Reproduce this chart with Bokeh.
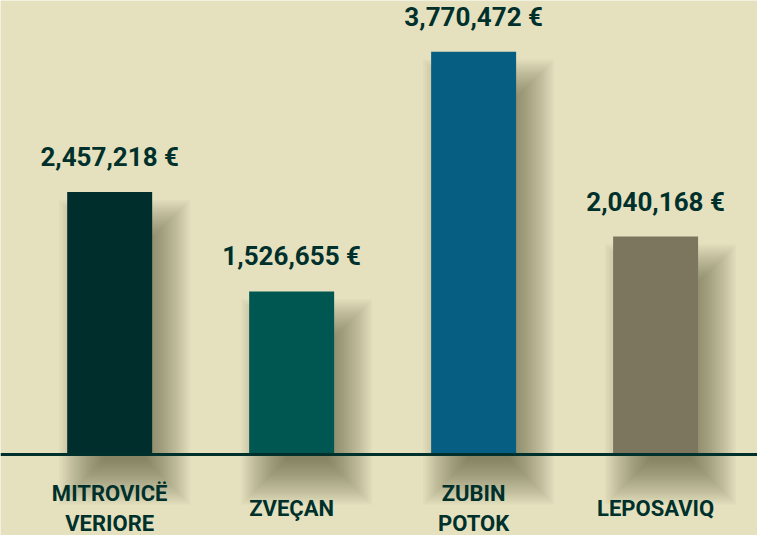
from bokeh.plotting import figure
from bokeh.models import ColumnDataSource, Span, Range1d
from bokeh.core.properties import value
from bokeh.embed import file_html
from bokeh.resources import INLINE

categories = ["MITROVICË\nVERIORE", "ZVEÇAN", "ZUBIN\nPOTOK", "LEPOSAVIQ"]
amounts = [2457218, 1526655, 3770472, 2040168]
value_labels = ["2,457,218 €", "1,526,655 €", "3,770,472 €", "2,040,168 €"]
colors = ["#002e2c", "#005752", "#065f82", "#7b765d"]

W, H = 757, 535
BG = "#e5e1bf"
DARK = "#00302b"

x_start, x_end = -0.60, 3.56
y_start, y_end = -758400, 4250800
px_x = (x_end - x_start) / W
px_y = (y_end - y_start) / H

xs = list(range(len(categories)))
bar_w = 0.467

p = figure(width=W, height=H, output_backend="svg", toolbar_location=None,
           x_range=Range1d(x_start, x_end), y_range=Range1d(y_start, y_end),
           min_border=0)
p.axis.visible = False
p.grid.visible = False
p.outline_line_color = None
p.background_fill_color = BG
p.border_fill_color = BG

# soft shadows (layered translucent rectangles)
for e in range(-22, 23, 2):
    left = [x - bar_w / 2 + (14 - e) * px_x for x in xs]
    right = [x + bar_w / 2 + (16 + e) * px_x for x in xs]
    top = [a - (30 - e) * px_y for a in amounts]
    bottom = [0 - (28 + e) * px_y for _ in xs]
    p.quad(left=left, right=right, top=top, bottom=bottom,
           fill_color="#34341f", fill_alpha=0.032, line_color=None)

src = ColumnDataSource(dict(x=xs, top=amounts, color=colors, lab=value_labels, cat=categories))
p.vbar(x="x", top="top", width=bar_w, bottom=0, fill_color="color", line_color=None, source=src)

p.add_layout(Span(location=0, dimension="width", line_color=DARK, line_width=3))

p.text(x="x", y="top", text="lab", source=src, y_offset=-35,
       text_align="center", text_baseline="middle", text_color=DARK,
       text_font=value("Roboto"), text_font_style="bold", text_font_size="26px")

p.text(x="x", y=0, text="cat", source=src, y_offset=54,
       text_align="center", text_baseline="middle", text_color=DARK,
       text_font=value("Roboto"), text_font_style="bold",
       text_font_size="22px", text_line_height=1.2)

open("out.html", "w").write(file_html(p, INLINE))
